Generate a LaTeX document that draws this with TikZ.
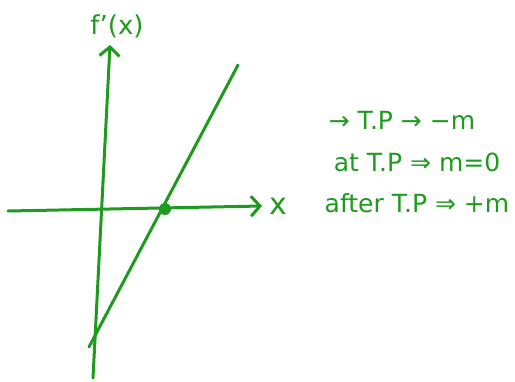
\documentclass[tikz,border=0pt]{standalone}
\usepackage{fontspec}
\setmainfont{DejaVu Sans}
\definecolor{PenGreen}{HTML}{1E9A1E}
\usetikzlibrary{arrows.meta}

\begin{document}
\begin{tikzpicture}[x=1pt, y=-1pt,
      ink/.style={draw=PenGreen, line width=3pt, line cap=round},
      tip/.style={-{Straight Barb[length=9pt, width=20pt, line width=3pt]}},
      note/.style={text=PenGreen, font=\fontsize{25}{28}\selectfont, inner sep=0pt}
    ]
      \useasboundingbox (0,0) rectangle (515,381);
      % axes
      \coordinate (xfrom) at (8,211);
      \coordinate (xto) at (262,206);
      \coordinate (yfrom) at (93,378);
      \coordinate (yto) at (110,45);
      \draw[ink, tip] (xfrom) -- (xto);
      \draw[ink, tip] (yfrom) -- (yto);
      \node[text=PenGreen, font=\fontsize{30}{32}\selectfont, inner sep=0pt] (xlbl) at (278,206) {x};
      \node[text=PenGreen, font=\fontsize{26}{28}\selectfont, inner sep=0pt] (ylbl) at (117,26) {f'(x)};
      % the line and its root
      \coordinate (lo) at (89,347);
      \coordinate (hi) at (238,65);
      \draw[ink] (lo) -- (hi);
      \node[circle, fill=PenGreen, inner sep=0pt, minimum size=12pt] (tp) at (165,209) {};
      % notes
      \node[note] (n1) at (402,120) {→ T.P → −m};
      \node[note] (n2) at (417,162) {at T.P ⇒ m=0};
      \node[note] (n3) at (417,203) {after T.P ⇒ +m};
    \end{tikzpicture}
\end{document}
